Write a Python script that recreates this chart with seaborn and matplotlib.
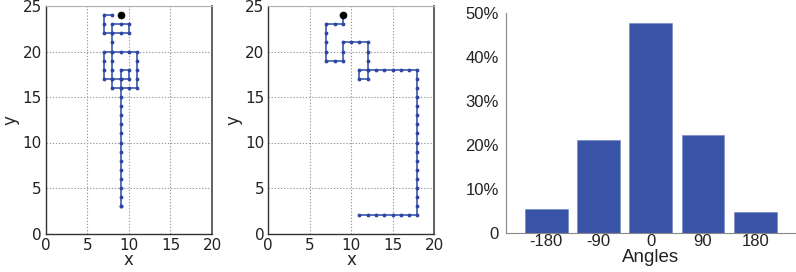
import matplotlib
matplotlib.use("Agg")
import matplotlib.pyplot as plt
import seaborn as sns
import pandas as pd
from matplotlib.ticker import MultipleLocator, FuncFormatter

# ---- data ----
walk1_x = [8, 7, 7, 7, 8, 9, 10, 10, 9, 8, 8, 8, 8, 8, 8, 8, 8, 9, 10, 11, 11, 11, 11, 11,
           10, 9, 8, 7, 7, 7, 7, 8, 9, 10, 10, 9, 9, 9, 9, 9, 9, 9, 9, 9, 9, 9, 9, 9, 9, 9, 9, 9]
walk1_y = [24, 24, 23, 22, 22, 22, 22, 23, 23, 23, 22, 21, 20, 19, 18, 17, 16, 16, 16, 16, 17, 18, 19, 20,
           20, 20, 20, 20, 19, 18, 17, 17, 17, 17, 18, 18, 17, 16, 15, 14, 13, 12, 11, 10, 9, 8, 7, 6, 5, 4, 3, 3]
walk2_x = [9, 9, 8, 7, 7, 7, 7, 7, 8, 9, 9, 9, 10, 11, 12, 12, 12, 12, 12, 11, 11, 12, 13, 14, 15, 16, 17, 18,
           18, 18, 18, 18, 18, 18, 18, 18, 18, 18, 18, 18, 18, 18, 18, 18, 17, 16, 15, 14, 13, 12, 11]
walk2_y = [24, 23, 23, 23, 22, 21, 20, 19, 19, 19, 20, 21, 21, 21, 21, 20, 19, 18, 17, 17, 18, 18, 18, 18, 18, 18, 18, 18,
           17, 16, 15, 14, 13, 12, 11, 10, 9, 8, 7, 6, 5, 4, 3, 2, 2, 2, 2, 2, 2, 2, 2]
start_x = [9]
start_y = [24]

angles = ["-180", "-90", "0", "90", "180"]
percent = [5.4, 21.1, 47.7, 22.2, 4.8]

# ---- styling ----
sns.set_style("white")
plt.rcParams['font.family'] = ['DejaVu Sans']

LINE = "#4a66b8"
MARK = "#2e45a0"
BAR = "#3953a6"

fig = plt.figure(figsize=(7.96, 2.72), dpi=100)
W, H = 796, 272

def add_ax(x0, x1, ytop, ybot):
    return fig.add_axes([x0 / W, (H - ybot) / H, (x1 - x0) / W, (ybot - ytop) / H])

ax1 = add_ax(45.8, 212, 6, 233.5)
ax2 = add_ax(268.3, 434, 6, 233.5)
ax3 = add_ax(506, 796, 13, 233)

for ax, wx, wy in [(ax1, walk1_x, walk1_y), (ax2, walk2_x, walk2_y)]:
    df = pd.DataFrame({"x": wx, "y": wy, "step": range(len(wx))})
    sns.lineplot(data=df, x="x", y="y", sort=False, estimator=None, ax=ax,
                 color=LINE, lw=1.3, marker="o", markersize=2.0,
                 markerfacecolor=MARK, markeredgecolor=MARK, zorder=3)
    sns.scatterplot(x=start_x, y=start_y, ax=ax, color="black", s=26,
                    edgecolor="black", zorder=4)
    ax.set_xlim(0, 20)
    ax.set_ylim(0, 25)
    ax.xaxis.set_major_locator(MultipleLocator(5))
    ax.yaxis.set_major_locator(MultipleLocator(5))
    ax.grid(True, ls=(0, (1.2, 1.6)), color="#9a9a9a", lw=0.8)
    ax.tick_params(length=0, labelsize=11, pad=3, colors="#222222")
    for s in ["left", "bottom"]:
        ax.spines[s].set_color("#333333")
        ax.spines[s].set_linewidth(1.0)
    ax.spines["top"].set_color("#b0b0b0")
    ax.spines["right"].set_color("#555555")
    ax.spines["right"].set_linewidth(1.3)
    for s in ax.spines.values():
        s.set_visible(True)
    ax.set_xlabel("x", fontsize=12, labelpad=-1)
    ax.set_ylabel("y", fontsize=12, labelpad=2)

# ---- bar chart ----
bdf = pd.DataFrame({"angle": angles, "pct": percent})
sns.barplot(data=bdf, x="angle", y="pct", ax=ax3, color=BAR, width=0.82,
            saturation=1, edgecolor="#6f84c4", linewidth=0.4)
ax3.set_xlim(-0.77, 4.78)
ax3.set_ylim(0, 50)
ax3.yaxis.set_major_locator(MultipleLocator(10))
ax3.yaxis.set_minor_locator(MultipleLocator(5))
ax3.yaxis.set_major_formatter(FuncFormatter(lambda v, p: "0" if v == 0 else f"{int(round(v))}%"))
ax3.tick_params(axis="y", which="major", direction="in", length=3.5, color="#888888",
                labelsize=12, pad=5)
ax3.tick_params(axis="y", which="minor", direction="in", length=2.5, color="#888888")
ax3.tick_params(axis="x", length=0, labelsize=12, pad=1)
for lab in ax3.get_xticklabels() + ax3.get_yticklabels():
    lab.set_family(["Liberation Sans"])
    lab.set_color("#222222")
ax3.set_xlabel("Angles", fontsize=13.5, family=["Liberation Sans"], labelpad=0, color="#222222")
ax3.set_ylabel("")
ax3.spines["top"].set_visible(False)
ax3.spines["right"].set_visible(False)
ax3.spines["left"].set_color("#888888")
ax3.spines["bottom"].set_color("#888888")

fig.savefig("out.png", dpi=100)
